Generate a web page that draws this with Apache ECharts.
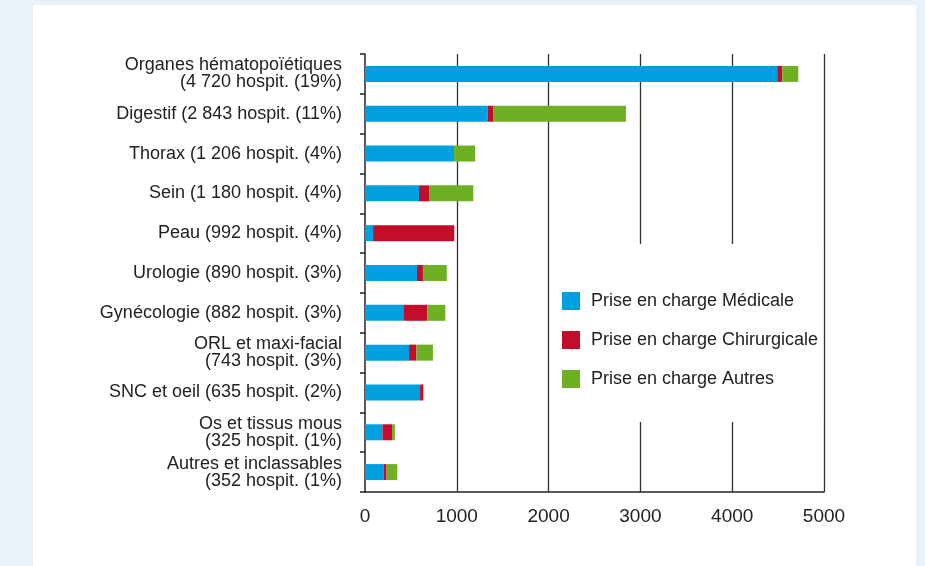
<!DOCTYPE html>
<html>
<head>
<meta charset="utf-8">
<script src="https://cdn.jsdelivr.net/npm/echarts@6/dist/echarts.min.js"></script>
<style>
  html, body { margin: 0; padding: 0; background: #e9f1f9; }
  #panel { position: absolute; left: 33px; top: 5px; width: 883px; height: 561px; background: #fff; }
  #chart { position: absolute; left: 0; top: 0; width: 925px; height: 566px; }
</style>
</head>
<body>
<div id="panel"></div>
<div id="chart"></div>
<script>
var categories = [
  'Organes hématopoïétiques\n(4 720 hospit. (19%)',
  'Digestif (2 843 hospit. (11%)',
  'Thorax (1 206 hospit. (4%)',
  'Sein (1 180 hospit. (4%)',
  'Peau (992 hospit. (4%)',
  'Urologie (890 hospit. (3%)',
  'Gynécologie (882 hospit. (3%)',
  'ORL et maxi-facial\n(743 hospit. (3%)',
  'SNC et oeil (635 hospit. (2%)',
  'Os et tissus mous\n(325 hospit. (1%)',
  'Autres et inclassables\n(352 hospit. (1%)'
];
var medicale     = [4490, 1337, 970, 588, 88, 566, 425, 480, 600, 190, 205];
var chirurgicale = [55,   58,   0,   109, 885, 65, 255, 80,  35,  105, 30];
var autres       = [175,  1448, 230, 483, 0,   260, 195, 180, 0,   30,  117];
var xTicks = [0, 1000, 2000, 3000, 4000, 5000];

var font = '"Liberation Sans", Arial, sans-serif';
var myChart = echarts.init(document.getElementById('chart'));

var option = {
  animation: false,
  textStyle: { fontFamily: font },
  grid: { left: 365, right: 101, top: 54, bottom: 74, containLabel: false },
  legend: {
    left: 552,
    top: 244,
    orient: 'vertical',
    backgroundColor: '#fff',
    padding: [48, 5, 34, 10],
    itemWidth: 18,
    itemHeight: 18,
    itemGap: 21,
    icon: 'rect',
    z: 10,
    textStyle: { fontSize: 18, color: '#222', fontFamily: font, padding: [0, 0, 0, 6] },
    data: ['Prise en charge Médicale', 'Prise en charge Chirurgicale', 'Prise en charge Autres']
  },
  xAxis: {
    type: 'value',
    min: xTicks[0],
    max: xTicks[xTicks.length - 1],
    interval: 1000,
    axisLine: { show: true, lineStyle: { color: '#222', width: 1.5 } },
    axisTick: { show: false },
    axisLabel: {
      fontSize: 19,
      color: '#222',
      margin: 15,
      formatter: function (v) { return String(v); }
    },
    splitLine: { show: true, showMinLine: false, lineStyle: { color: '#333', width: 1.3 } }
  },
  yAxis: {
    type: 'category',
    inverse: true,
    offset: 3,
    data: categories,
    axisLine: { show: true, lineStyle: { color: '#222', width: 1.5 } },
    axisTick: { show: true, length: 5, lineStyle: { color: '#222', width: 1.5 } },
    axisLabel: { fontSize: 18, color: '#222', margin: 20, lineHeight: 17, align: 'right' }
  },
  series: [
    {
      name: 'Prise en charge Médicale',
      type: 'bar',
      stack: 'total',
      barWidth: 16,
      itemStyle: { color: '#009fe0' },
      data: medicale
    },
    {
      name: 'Prise en charge Chirurgicale',
      type: 'bar',
      stack: 'total',
      barWidth: 16,
      itemStyle: { color: '#c20e2b' },
      data: chirurgicale
    },
    {
      name: 'Prise en charge Autres',
      type: 'bar',
      stack: 'total',
      barWidth: 16,
      itemStyle: { color: '#6eb024' },
      data: autres
    }
  ]
};
myChart.setOption(option);
</script>
</body>
</html>
